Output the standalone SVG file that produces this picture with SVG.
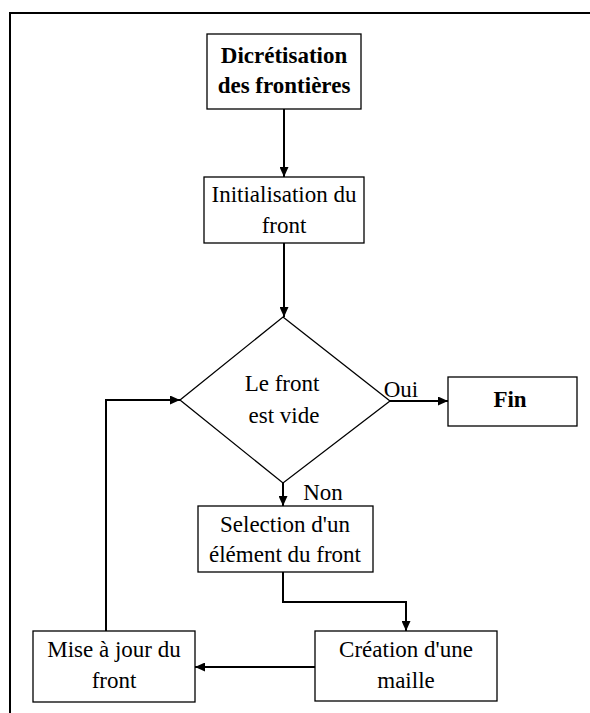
<svg xmlns="http://www.w3.org/2000/svg" width="590" height="713" viewBox="0 0 590 713">
<style>
.box{fill:#fff;stroke:#000;stroke-width:1.3}
.t{font-family:"Liberation Serif","Times New Roman",serif;font-size:23px;fill:#000;text-anchor:middle}
.b{font-weight:bold}
.c{fill:none;stroke:#000;stroke-width:2}
.frame{fill:none;stroke:#000;stroke-width:2}
</style>
<defs>
<marker id="ah" markerUnits="userSpaceOnUse" markerWidth="10" markerHeight="9" refX="10" refY="4.5" orient="auto">
<path d="M0,0 L10,4.5 L0,9 z" fill="#000"/>
</marker>
</defs>
<rect width="590" height="713" fill="#fff"/>
<path class="frame" d="M10,713 L10,13 L590,13"/>
<g id="connectors">
<line class="c" x1="284" y1="109" x2="284" y2="177" marker-end="url(#ah)"/>
<line class="c" x1="284" y1="243" x2="284" y2="317" marker-end="url(#ah)"/>
<line class="c" x1="390" y1="401" x2="448" y2="401" marker-end="url(#ah)"/>
<line class="c" x1="283" y1="483" x2="283" y2="506" marker-end="url(#ah)"/>
<path class="c" d="M283,572 L283,602 L406,602 L406,631" marker-end="url(#ah)"/>
<line class="c" x1="315" y1="667" x2="195" y2="667" marker-end="url(#ah)"/>
<path class="c" d="M106,631 L106,400 L180,400" marker-end="url(#ah)"/>
</g>
<g id="n1">
<rect class="box" x="207" y="34" width="154" height="75"/>
<text class="t b" x="284" y="63">Dicrétisation</text>
<text class="t b" x="284" y="93">des frontières</text>
</g>
<g id="n2">
<rect class="box" x="204" y="177" width="160" height="66"/>
<text class="t" x="284" y="202">Initialisation du</text>
<text class="t" x="284" y="233">front</text>
</g>
<g id="n3">
<polygon class="box" points="283,317 390,401 283,483 180,400"/>
<text class="t" x="282" y="391">Le front</text>
<text class="t" x="284" y="423">est vide</text>
</g>
<g id="lbl-oui"><text class="t" x="401" y="397">Oui</text></g>
<g id="lbl-non"><text class="t" x="323" y="500">Non</text></g>
<g id="n4">
<rect class="box" x="448" y="377" width="129" height="49"/>
<text class="t b" x="510" y="407">Fin</text>
</g>
<g id="n5">
<rect class="box" x="198" y="506" width="175" height="66"/>
<text class="t" x="285" y="532">Selection d'un</text>
<text class="t" x="285" y="562">élément du front</text>
</g>
<g id="n6">
<rect class="box" x="315" y="631" width="182" height="70"/>
<text class="t" x="406" y="657">Création d'une</text>
<text class="t" x="406" y="688">maille</text>
</g>
<g id="n7">
<rect class="box" x="33" y="631" width="162" height="71"/>
<text class="t" x="114" y="657">Mise à jour du</text>
<text class="t" x="114" y="688">front</text>
</g>
</svg>
